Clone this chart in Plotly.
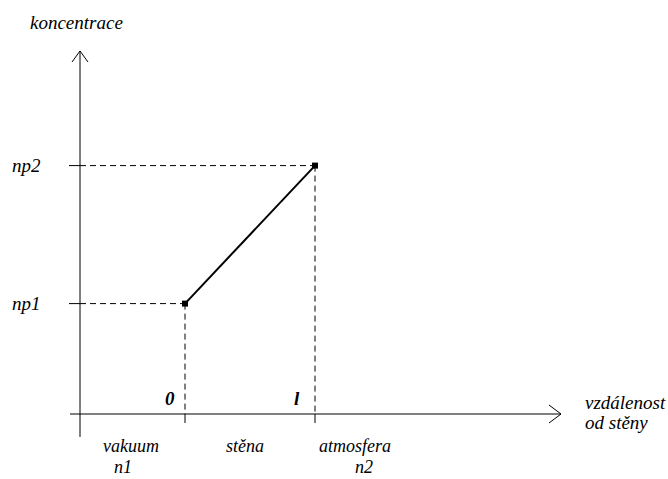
import plotly.graph_objects as go

# Data (schematic): wall boundaries and partial-pressure concentrations
positions = [0, 1]            # 0 = vacuum side of wall, 1 = l (atmosphere side)
position_labels = ["0", "l"]
concentrations = [0.8, 1.8]   # np1, np2
conc_labels = ["np1", "np2"]
region_labels = ["vakuum", "stěna", "atmosfera"]
region_sub = ["n1", "", "n2"]
x_title = ["vzdálenost", "od stěny"]
y_title = "koncentrace"

# Layout constants
W, H = 668, 479
PX_X = 130.0   # pixels per x unit
PX_Y = 138.0   # pixels per y unit
X0_PX = 185.0  # pixel of x = 0
Y0_PX = 414.0  # pixel of y = 0 (x axis)
AXIS_PX = 80.0
axis_x = (AXIS_PX - X0_PX) / PX_X

xrange = [(0 - X0_PX) / PX_X, (W - X0_PX) / PX_X]
yrange = [(Y0_PX - H) / PX_Y, Y0_PX / PX_Y]

FONT = dict(family="Liberation Serif", size=19, color="black", style="italic")
RFONT = dict(family="Liberation Serif", size=18, color="black", style="italic")
BFONT = dict(family="Liberation Serif", size=19, color="black", style="italic", weight="bold")

fig = go.Figure()

# dashed guide lines
gx, gy = [], []
for xv, yv in zip(positions, concentrations):
    gx += [axis_x, xv, None, xv, xv, None]
    gy += [yv, yv, None, yv, 0, None]
fig.add_trace(go.Scatter(x=gx, y=gy, mode="lines",
                         line=dict(color="black", width=1, dash="6px,4px"),
                         hoverinfo="skip"))

# concentration profile in the wall
fig.add_trace(go.Scatter(x=positions, y=concentrations, mode="lines+markers",
                         line=dict(color="black", width=2),
                         marker=dict(symbol="square", size=6, color="black"),
                         hoverinfo="skip"))

shapes = []
line = dict(color="black", width=1)
# y axis (extends a bit below x axis) and x axis
shapes.append(dict(type="line", xref="x", yref="y", x0=axis_x, x1=axis_x,
                   ysizemode="pixel", yanchor=0, y0=-23, y1=Y0_PX - 51, line=line))
shapes.append(dict(type="line", xref="x", yref="y", y0=0, y1=0,
                   xsizemode="pixel", xanchor=axis_x, x0=-10, x1=481, line=line))
# arrowheads (open V)
shapes.append(dict(type="path", xref="x", yref="y", xsizemode="pixel", ysizemode="pixel",
                   xanchor=axis_x, yanchor=0,
                   path=f"M-8,{Y0_PX-62} L0,{Y0_PX-51} L8,{Y0_PX-62}", line=line))
shapes.append(dict(type="path", xref="x", yref="y", xsizemode="pixel", ysizemode="pixel",
                   xanchor=axis_x, yanchor=0,
                   path="M469,9 L481,0 L469,-9", line=line))
# y ticks
for yv in concentrations:
    shapes.append(dict(type="line", xref="x", yref="y", y0=yv, y1=yv,
                       xsizemode="pixel", xanchor=axis_x, x0=-11, x1=0, line=line))
# x ticks
for xv in positions:
    shapes.append(dict(type="line", xref="x", yref="y", x0=xv, x1=xv,
                       ysizemode="pixel", yanchor=0, y0=0, y1=-9, line=line))

ann = []
ann.append(dict(x=axis_x, y=0, xshift=-4, yshift=Y0_PX - 22, text=y_title,
                showarrow=False, xanchor="center", yanchor="middle", font=FONT))
for yv, t in zip(concentrations, conc_labels):
    ann.append(dict(x=axis_x, y=yv, xshift=-37, text=t, showarrow=False,
                    xanchor="right", yanchor="middle", font=FONT))
for xv, t, sh in zip(positions, position_labels, [-15, -18]):
    ann.append(dict(x=xv, y=0, xshift=sh, yshift=16, text=t, showarrow=False,
                    xanchor="center", yanchor="middle", font=BFONT))
region_x = [(axis_x + positions[0]) / 2, (positions[0] + positions[1]) / 2, positions[1]]
main_shift = [-2, -5, 40]
sub_shift = [-10, 0, 49]
for rx, t, s, ms, ss in zip(region_x, region_labels, region_sub, main_shift, sub_shift):
    ann.append(dict(x=rx, y=0, xshift=ms, yshift=-32, text=t, showarrow=False,
                    xanchor="center", yanchor="middle", font=RFONT, borderpad=0))
    if s:
        ann.append(dict(x=rx, y=0, xshift=ss, yshift=-53, text=s, showarrow=False,
                        xanchor="center", yanchor="middle", font=RFONT, borderpad=0))
for t, ys in zip(x_title, [12, -8]):
    ann.append(dict(x=axis_x, y=0, xshift=503, yshift=ys, text=t, showarrow=False,
                    xanchor="left", yanchor="middle", font=FONT))

fig.update_layout(
    width=W, height=H, margin=dict(l=0, r=0, t=0, b=0),
    paper_bgcolor="white", plot_bgcolor="white", showlegend=False,
    xaxis=dict(range=xrange, visible=False, fixedrange=True),
    yaxis=dict(range=yrange, visible=False, fixedrange=True),
    shapes=shapes, annotations=ann,
)
fig.write_html("out.html", config={"displayModeBar": False},
               post_script="document.body.style.margin='0';document.body.style.overflow='hidden';")
